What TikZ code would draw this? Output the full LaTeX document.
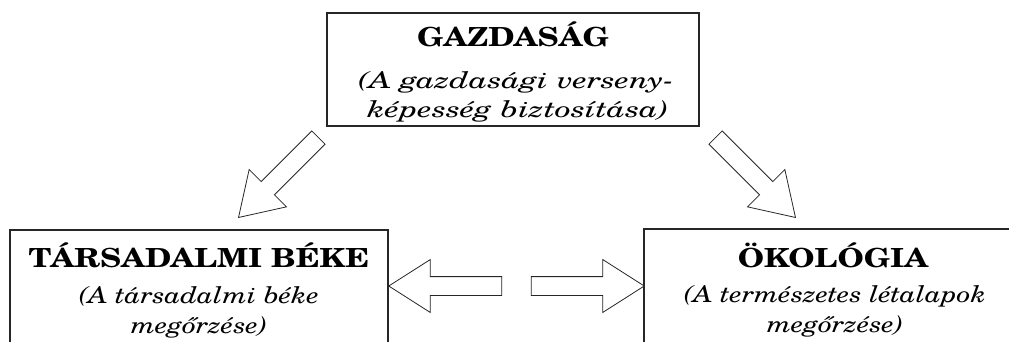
\documentclass[tikz,border=0pt]{standalone}
\usepackage{fontspec}
\setmainfont{TeX Gyre Schola}[FakeStretch=1.2]
\usetikzlibrary{shapes.arrows}
\begin{document}
\begin{tikzpicture}[x=1pt,y=-1pt,
    frame/.style={draw=black!85,line width=1.5pt,inner sep=0pt},
    title/.style={font=\fontsize{26.3}{30}\selectfont\bfseries,anchor=base,inner sep=0pt},
    sub/.style={font=\fontsize{23}{29}\selectfont\itshape,anchor=base,inner sep=0pt},
    widesub/.style={sub,xscale=1.16,transform shape},
    blockarr/.style={single arrow,draw=black!85,line width=0.8pt,fill=white,
        inner xsep=0pt,inner ysep=9pt,minimum height=113pt,
        single arrow head extend=17pt,single arrow tip angle=65,anchor=tip}]
    \useasboundingbox (0,0) rectangle (1009,341);
    \clip (0,0) rectangle (1009,341);

    \node[frame,minimum width=372pt,minimum height=113pt] (gazdasag) at (513,69.5) {};
    \node[frame,minimum width=378pt,minimum height=200pt] (tarsadalmi) at (199,330) {};
    \node[frame,minimum width=378pt,minimum height=200pt] (okologia) at (833,329) {};

    \node[title] (gtitle) at (gazdasag.center |- 0,46) {GAZDASÁG};
    \node[widesub] (gsub1) at (516,88) {(A gazdasági verseny-};
    \node[widesub] (gsub2) at (518,117) {képesség biztosítása)};
    \node[title] (ttitle) at (tarsadalmi.center |- 0,267) {TÁRSADALMI BÉKE};
    \node[sub] (tsub1) at (tarsadalmi.center |- 0,303) {(A társadalmi béke};
    \node[sub] (tsub2) at (tarsadalmi.center |- 0,333) {megőrzése)};
    \node[title] (otitle) at (okologia.center |- 0,267) {ÖKOLÓGIA};
    \node[sub] (osub1) at (835,302) {(A természetes létalapok};
    \node[sub] (osub2) at (835,332) {megőrzése)};

    \node[blockarr,rotate=225] (gt) at (238,218) {};
    \node[blockarr,rotate=-45] (go) at (796,218) {};
    \node[blockarr,rotate=180] (ot) at (388,286) {};
    \node[blockarr] (to) at (645,286) {};
\end{tikzpicture}
\end{document}
